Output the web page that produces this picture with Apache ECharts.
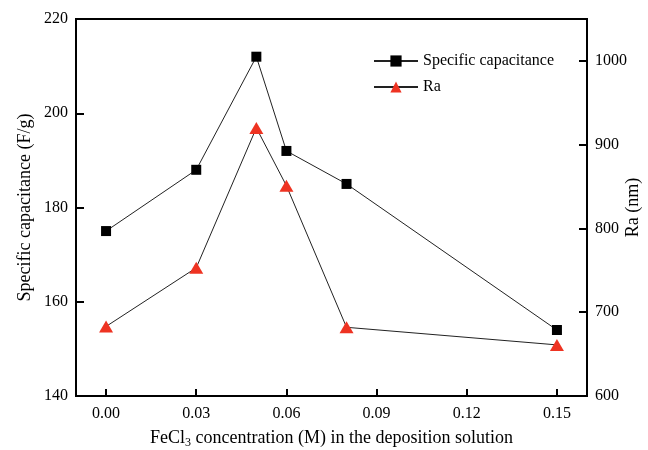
<!DOCTYPE html>
<html><head><meta charset="utf-8">
<script src="https://cdn.jsdelivr.net/npm/echarts@6/dist/echarts.min.js"></script>
<style>html,body{margin:0;padding:0;background:#fff}#c{width:648px;height:450px}</style>
</head><body><div id="c"></div>
<script>
const concentrations = [0.00, 0.03, 0.05, 0.06, 0.08, 0.15];
const specificCapacitance = [175, 188, 212, 192, 185, 154];
const ra = [683, 753, 920, 851, 682, 661];
const xTicks = [0.00, 0.03, 0.06, 0.09, 0.12, 0.15];
const leftTicks = [140, 160, 180, 200, 220];
const rightTicks = [600, 700, 800, 900, 1000];

const font = 'Liberation Serif';
const chart = echarts.init(document.getElementById('c'));
chart.setOption({
  animation: false,
  backgroundColor: '#fff',
  textStyle: { fontFamily: font, color: '#000' },
  grid: { left: 76, right: 61, top: 19, bottom: 54, outerBoundsMode: 'none', containLabel: false,
    show: true, borderColor: '#000', borderWidth: 2, backgroundColor: 'transparent' },
  legend: {
    orient: 'vertical', left: 368, top: 48, itemWidth: 44, itemHeight: 14, itemGap: 10,
    textStyle: { fontFamily: font, fontSize: 16, color: '#000' },
    data: ['Specific capacitance', 'Ra']
  },
  xAxis: {
    type: 'value', min: -0.01, max: 0.16,
    name: 'FeCl{sub|3} concentration (M) in the deposition solution',
    nameLocation: 'middle', nameGap: 32,
    nameTextStyle: { fontFamily: font, fontSize: 18, color: '#000',
      rich: { sub: { fontFamily: font, fontSize: 12, padding: [9, 0, 0, 0], color: '#000' } } },
    axisLine: { onZero: false, lineStyle: { color: '#000', width: 2 } },
    axisTick: { inside: true, length: 7, lineStyle: { color: '#000', width: 2 }, customValues: xTicks },
    axisLabel: { fontFamily: font, fontSize: 16, color: '#000', margin: 10, customValues: xTicks,
      formatter: v => v.toFixed(2) },
    splitLine: { show: false }
  },
  yAxis: [{
    type: 'value', min: 140, max: 220,
    name: 'Specific capacitance (F/g)', nameLocation: 'middle', nameGap: 51, nameRotate: 90, nameMoveOverlap: false,
    nameTextStyle: { fontFamily: font, fontSize: 18, color: '#000', align: 'center', verticalAlign: 'middle' },
    axisLine: { show: true, onZero: false, lineStyle: { color: '#000', width: 2 } },
    axisTick: { show: true, inside: true, length: 8, lineStyle: { color: '#000', width: 2 }, customValues: leftTicks },
    axisLabel: { fontFamily: font, fontSize: 16, color: '#000', margin: 8, customValues: leftTicks,
      formatter: v => String(v) },
    splitLine: { show: false }
  }, {
    type: 'value', min: 600, max: 1050, position: 'right',
    name: 'Ra (nm)', nameLocation: 'middle', nameGap: 46, nameRotate: 90, nameMoveOverlap: false,
    nameTextStyle: { fontFamily: font, fontSize: 18, color: '#000', align: 'center', verticalAlign: 'middle' },
    axisLine: { show: true, onZero: false, lineStyle: { color: '#000', width: 2 } },
    axisTick: { show: true, inside: true, length: 8, lineStyle: { color: '#000', width: 2 }, customValues: rightTicks },
    axisLabel: { fontFamily: font, fontSize: 16, color: '#000', margin: 8, customValues: rightTicks,
      formatter: v => String(v) },
    splitLine: { show: false }
  }],
  series: [{
    name: 'Specific capacitance', type: 'line', yAxisIndex: 0,
    data: concentrations.map((x, i) => [x, specificCapacitance[i]]),
    symbol: 'rect', symbolSize: 10,
    itemStyle: { color: '#000' },
    lineStyle: { color: '#222', width: 1 }
  }, {
    name: 'Ra', type: 'line', yAxisIndex: 1,
    data: concentrations.map((x, i) => [x, ra[i]]),
    symbol: 'triangle', symbolSize: [14, 12],
    itemStyle: { color: '#ee3322' },
    lineStyle: { color: '#222', width: 1 }
  }]
});
</script></body></html>
